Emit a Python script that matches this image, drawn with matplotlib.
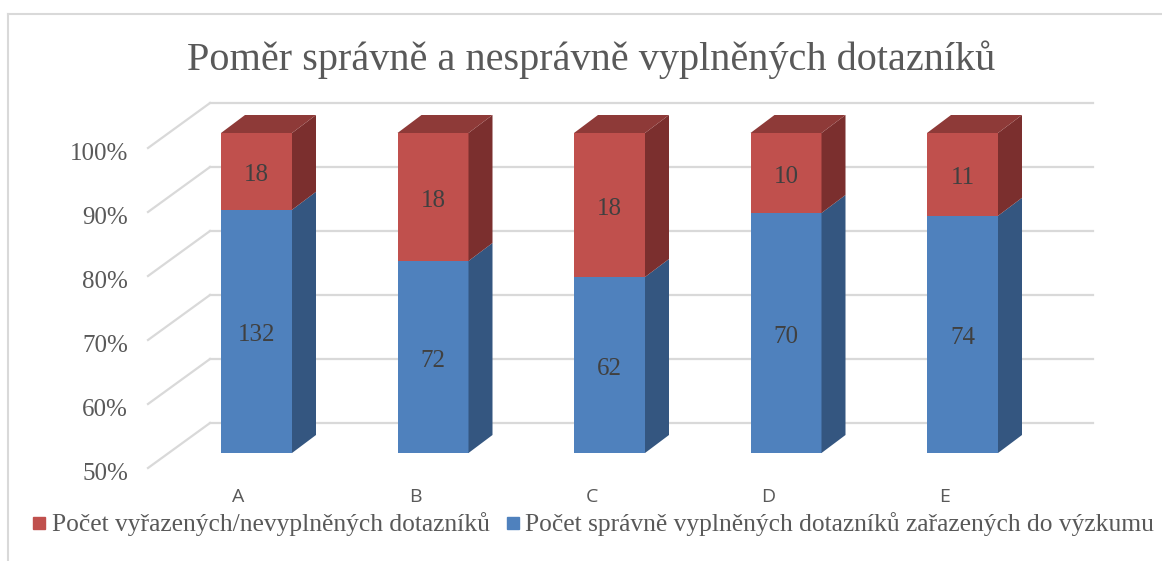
"""
3D-look 100 % stacked bar chart: correctly vs. incorrectly filled questionnaires.
Writes out.png (1162x561).
"""
import numpy as np
import matplotlib
matplotlib.use("Agg")
import matplotlib.pyplot as plt
from matplotlib.patches import Polygon, Rectangle
from matplotlib.lines import Line2D

# --- data -------------------------------------------------------------------
categories = ["A", "B", "C", "D", "E"]
valid = [132, 72, 62, 70, 74]        # zařazené do výzkumu
rejected = [18, 18, 18, 10, 11]      # vyřazené / nevyplněné
ticks = [50, 60, 70, 80, 90, 100]

title = "Poměr správně a nesprávně vyplněných dotazníků"
legend_labels = ["Počet vyřazených/nevyplněných dotazníků",
                 "Počet správně vyplněných dotazníků zařazených do výzkumu"]

# --- look -------------------------------------------------------------------
W, H = 1162, 561
BLUE, BLUE_SIDE = "#4F81BD", "#345680"
RED, RED_SIDE, RED_TOP = "#C0504D", "#7B2F2E", "#8E3A38"
GRID = "#D9D9D9"
TXT = "#595959"
SERIF = ["Liberation Serif", "DejaVu Serif"]
SANS = ["Open Sans", "DejaVu Sans"]

# pixel geometry of the fake 3D projection
PX_CAT, X0 = 176.5, 256.5      # px per category, px of bar A centre
PX_PCT, Y50 = 6.4, 453         # px per percent, px of 50 % on bar front
HALF_W = 35.5 / PX_CAT         # half bar width in category units


def px_x(dx):
    return dx / PX_CAT


def px_y(dy):
    return dy / PX_PCT


fig = plt.figure(figsize=(W / 100, H / 100), dpi=100)
ax = fig.add_axes([0, 0, 1, 1])
ax.set_xlim(-X0 / PX_CAT, (W - X0) / PX_CAT)
ax.set_ylim(50 - (H - Y50) / PX_PCT, 50 + Y50 / PX_PCT)
ax.axis("off")

x = np.arange(len(categories))
valid = np.array(valid, dtype=float)
rejected = np.array(rejected, dtype=float)
total = valid + rejected
blue_top = 100 * valid / total          # share of valid questionnaires in %

# --- walls / gridlines ------------------------------------------------------
back_dy = px_y(30)
front_dy = px_y(-15)
wall_left = px_x(210 - X0)
wall_right = px_x(1093 - X0)
floor_left = px_x(148 - X0)
for t in ticks:
    ax.plot([wall_left, wall_right], [t + back_dy] * 2, color=GRID, lw=1.6, zorder=1)
    ax.plot([floor_left, wall_left], [t + front_dy, t + back_dy], color=GRID, lw=1.6, zorder=1)
    ax.text(px_x(128 - X0), t + front_dy - px_y(6), f"{t}%", ha="right", va="center",
            fontsize=18, color=TXT, family=SERIF)

# --- bars -------------------------------------------------------------------
ax.bar(x, blue_top - 50, bottom=50, width=2 * HALF_W, color=BLUE, zorder=3)
ax.bar(x, 100 - blue_top, bottom=blue_top, width=2 * HALF_W, color=RED, zorder=3)

ddx, ddy = px_x(24), px_y(18)
for xi, b in zip(x, blue_top):
    r = xi + HALF_W
    l = xi - HALF_W
    ax.add_patch(Polygon([(r, 50), (r + ddx, 50 + ddy), (r + ddx, b + ddy), (r, b)],
                         color=BLUE_SIDE, zorder=3, lw=0))
    ax.add_patch(Polygon([(r, b), (r + ddx, b + ddy), (r + ddx, 100 + ddy), (r, 100)],
                         color=RED_SIDE, zorder=3, lw=0))
    ax.add_patch(Polygon([(l, 100), (l + ddx, 100 + ddy), (r + ddx, 100 + ddy), (r, 100)],
                         color=RED_TOP, zorder=3, lw=0))

# data labels (nudged a few px down to sit like the original)
nudge = px_y(4)
for xi, b, v, rj in zip(x, blue_top, valid, rejected):
    ax.text(xi, (50 + b) / 2 - nudge, f"{int(v)}", ha="center", va="center",
            fontsize=18, color="#404040", family=SERIF, zorder=4)
    ax.text(xi, (b + 100) / 2 - nudge, f"{int(rj)}", ha="center", va="center",
            fontsize=18, color="#404040", family=SERIF, zorder=4)

# category labels
for xi, c in zip(x, categories):
    ax.text(xi - px_x(18), 50 - px_y(497 - Y50), c, ha="center", va="center",
            fontsize=14, color=TXT, family=SANS)

# --- title, legend, frame ---------------------------------------------------
fig.text(591 / W, 1 - 60 / H, title, ha="center", va="center",
         fontsize=29, color=TXT, family=SERIF)

for sx, tx, col, lab in [(33, 52, RED, legend_labels[0]), (507, 525, BLUE, legend_labels[1])]:
    fig.patches.append(Rectangle((sx / W, 1 - 529 / H), 12 / W, 12 / H,
                                 transform=fig.transFigure, color=col, figure=fig))
    fig.text(tx / W, 1 - 524 / H, lab, ha="left", va="center",
             fontsize=18.4, color=TXT, family=SERIF)

fig.lines.append(Line2D([8 / W, 8 / W], [0, 1 - 14 / H], transform=fig.transFigure,
                        color=GRID, lw=1.5, figure=fig))
fig.lines.append(Line2D([8 / W, 1], [1 - 14 / H, 1 - 14 / H], transform=fig.transFigure,
                        color=GRID, lw=1.5, figure=fig))

fig.savefig("out.png", dpi=100, facecolor="white")
